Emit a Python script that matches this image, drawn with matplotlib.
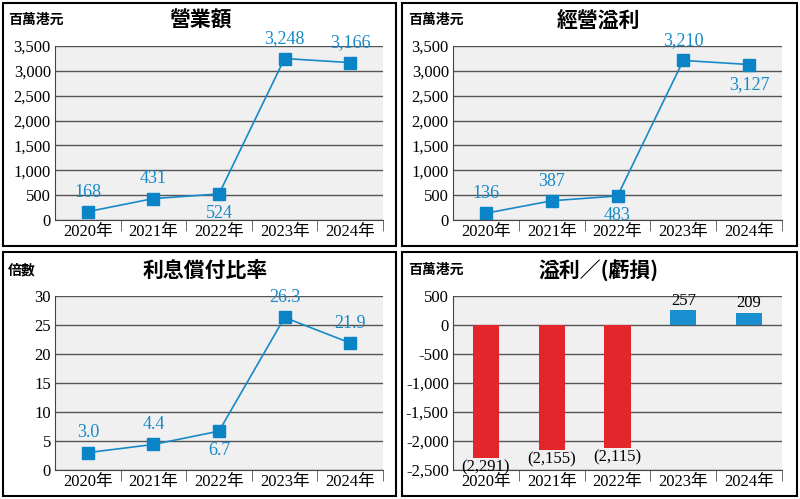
import matplotlib.pyplot as plt
from matplotlib.patches import Rectangle

years = ['2020年', '2021年', '2022年', '2023年', '2024年']
revenue = [168, 431, 524, 3248, 3166]
op_profit = [136, 387, 483, 3210, 3127]
coverage = [3.0, 4.4, 6.7, 26.3, 21.9]
profit = [-2291, -2155, -2115, 257, 209]

rev_lbl = ['168', '431', '524', '3,248', '3,166']
op_lbl = ['136', '387', '483', '3,210', '3,127']
cov_lbl = ['3.0', '4.4', '6.7', '26.3', '21.9']
pro_lbl = ['(2,291)', '(2,155)', '(2,115)', '257', '209']

CJK = ['Noto Sans CJK JP', 'Noto Sans CJK TC', 'Noto Sans CJK SC', 'DejaVu Sans']
SERIF = 'Liberation Serif'
MIX = [SERIF] + CJK
BLUE = '#1689c8'
W, H = 800, 499

fig = plt.figure(figsize=(8, 4.99), dpi=100)


def box(x0, y0, x1, y1):
    fig.patches.append(Rectangle((x0 / W, 1 - y1 / H), (x1 - x0) / W, (y1 - y0) / H,
                                 transform=fig.transFigure, fill=False, ec='black', lw=1.5))


def make_ax(x0, y0, x1, y1, ylim, yticks, ylabels):
    ax = fig.add_axes([x0 / W, 1 - y1 / H, (x1 - x0) / W, (y1 - y0) / H])
    ax.set_facecolor('#f0f0f0')
    ax.set_xlim(-0.5, 4.5)
    ax.set_ylim(*ylim)
    ax.set_yticks(yticks)
    ax.set_yticklabels(ylabels, fontfamily=SERIF, fontsize=12)
    ax.set_xticks(range(5))
    ax.set_xticklabels(years, fontfamily=MIX, fontsize=12)
    ax.set_xticks([0.5, 1.5, 2.5, 3.5, 4.5], minor=True)
    ax.tick_params(axis='x', which='major', length=0, pad=3)
    ax.tick_params(axis='x', which='minor', length=8, direction='out', color='#555')
    ax.tick_params(axis='y', length=0, pad=3)
    ax.grid(axis='y', color='#555', lw=1.0)
    ax.set_axisbelow(True)
    for s in ['top', 'right']:
        ax.spines[s].set_visible(False)
    ax.spines['left'].set_color('#444')
    ax.spines['bottom'].set_color('#444')
    return ax


def line_panel(x0, y0, x1, y1, vals, lbls, ylim, yticks, ylabels, below, off):
    ax = make_ax(x0, y0, x1, y1, ylim, yticks, ylabels)
    ax.plot(range(5), vals, color=BLUE, lw=1.2, marker='s', ms=9, mfc='#0a84c6', mec='#0a84c6')
    for i, (v, t) in enumerate(zip(vals, lbls)):
        dy = -off if i in below else off
        ax.annotate(t, (i, v), xytext=(0, dy), textcoords='offset points', ha='center',
                    va='top' if i in below else 'bottom', color=BLUE, fontfamily=SERIF, fontsize=13)
    return ax


box(3, 3, 396, 246)
box(402, 3, 797, 246)
box(3, 252, 396, 496)
box(402, 252, 797, 496)

kt = [0, 500, 1000, 1500, 2000, 2500, 3000, 3500]
kl = ['0', '500', '1,000', '1,500', '2,000', '2,500', '3,000', '3,500']
line_panel(55, 46, 383, 220, revenue, rev_lbl, (0, 3500), kt, kl, [2], 8)
line_panel(453, 46, 782, 220, op_profit, op_lbl, (0, 3500), kt, kl, [2, 4], 8)
ct = [0, 5, 10, 15, 20, 25, 30]
line_panel(55, 296, 383, 470, coverage, cov_lbl, (0, 30), ct, [str(c) for c in ct], [2], 8)

bt = [-2500, -2000, -1500, -1000, -500, 0, 500]
bl = ['-2,500', '-2,000', '-1,500', '-1,000', '-500', '0', '500']
ax = make_ax(453, 296, 782, 470, (-2500, 500), bt, bl)
cols = ['#e2262b' if v < 0 else '#1a8fd0' for v in profit]
ax.bar(range(5), profit, width=0.4, color=cols, zorder=3)
for i, (v, t) in enumerate(zip(profit, pro_lbl)):
    ax.annotate(t, (i, v), xytext=(0, -1 if v < 0 else 1), textcoords='offset points', ha='center',
                va='top' if v < 0 else 'bottom', fontfamily=SERIF, fontsize=12)

titles = [('營業額', 200, 20), ('經營溢利', 598, 20), ('利息償付比率', 205, 270), ('溢利／(虧損)', 598, 270)]
for t, x, y in titles:
    fig.text(x / W, 1 - y / H, t, fontfamily=CJK, fontsize=15, fontweight='bold', ha='center', va='center')
units = [('百萬港元', 8, 20), ('百萬港元', 408, 20), ('倍數', 8, 270), ('百萬港元', 408, 270)]
for t, x, y in units:
    fig.text(x / W, 1 - y / H, t, fontfamily=CJK, fontsize=10, fontweight='bold', ha='left', va='center')

fig.savefig('out.png', dpi=100)
